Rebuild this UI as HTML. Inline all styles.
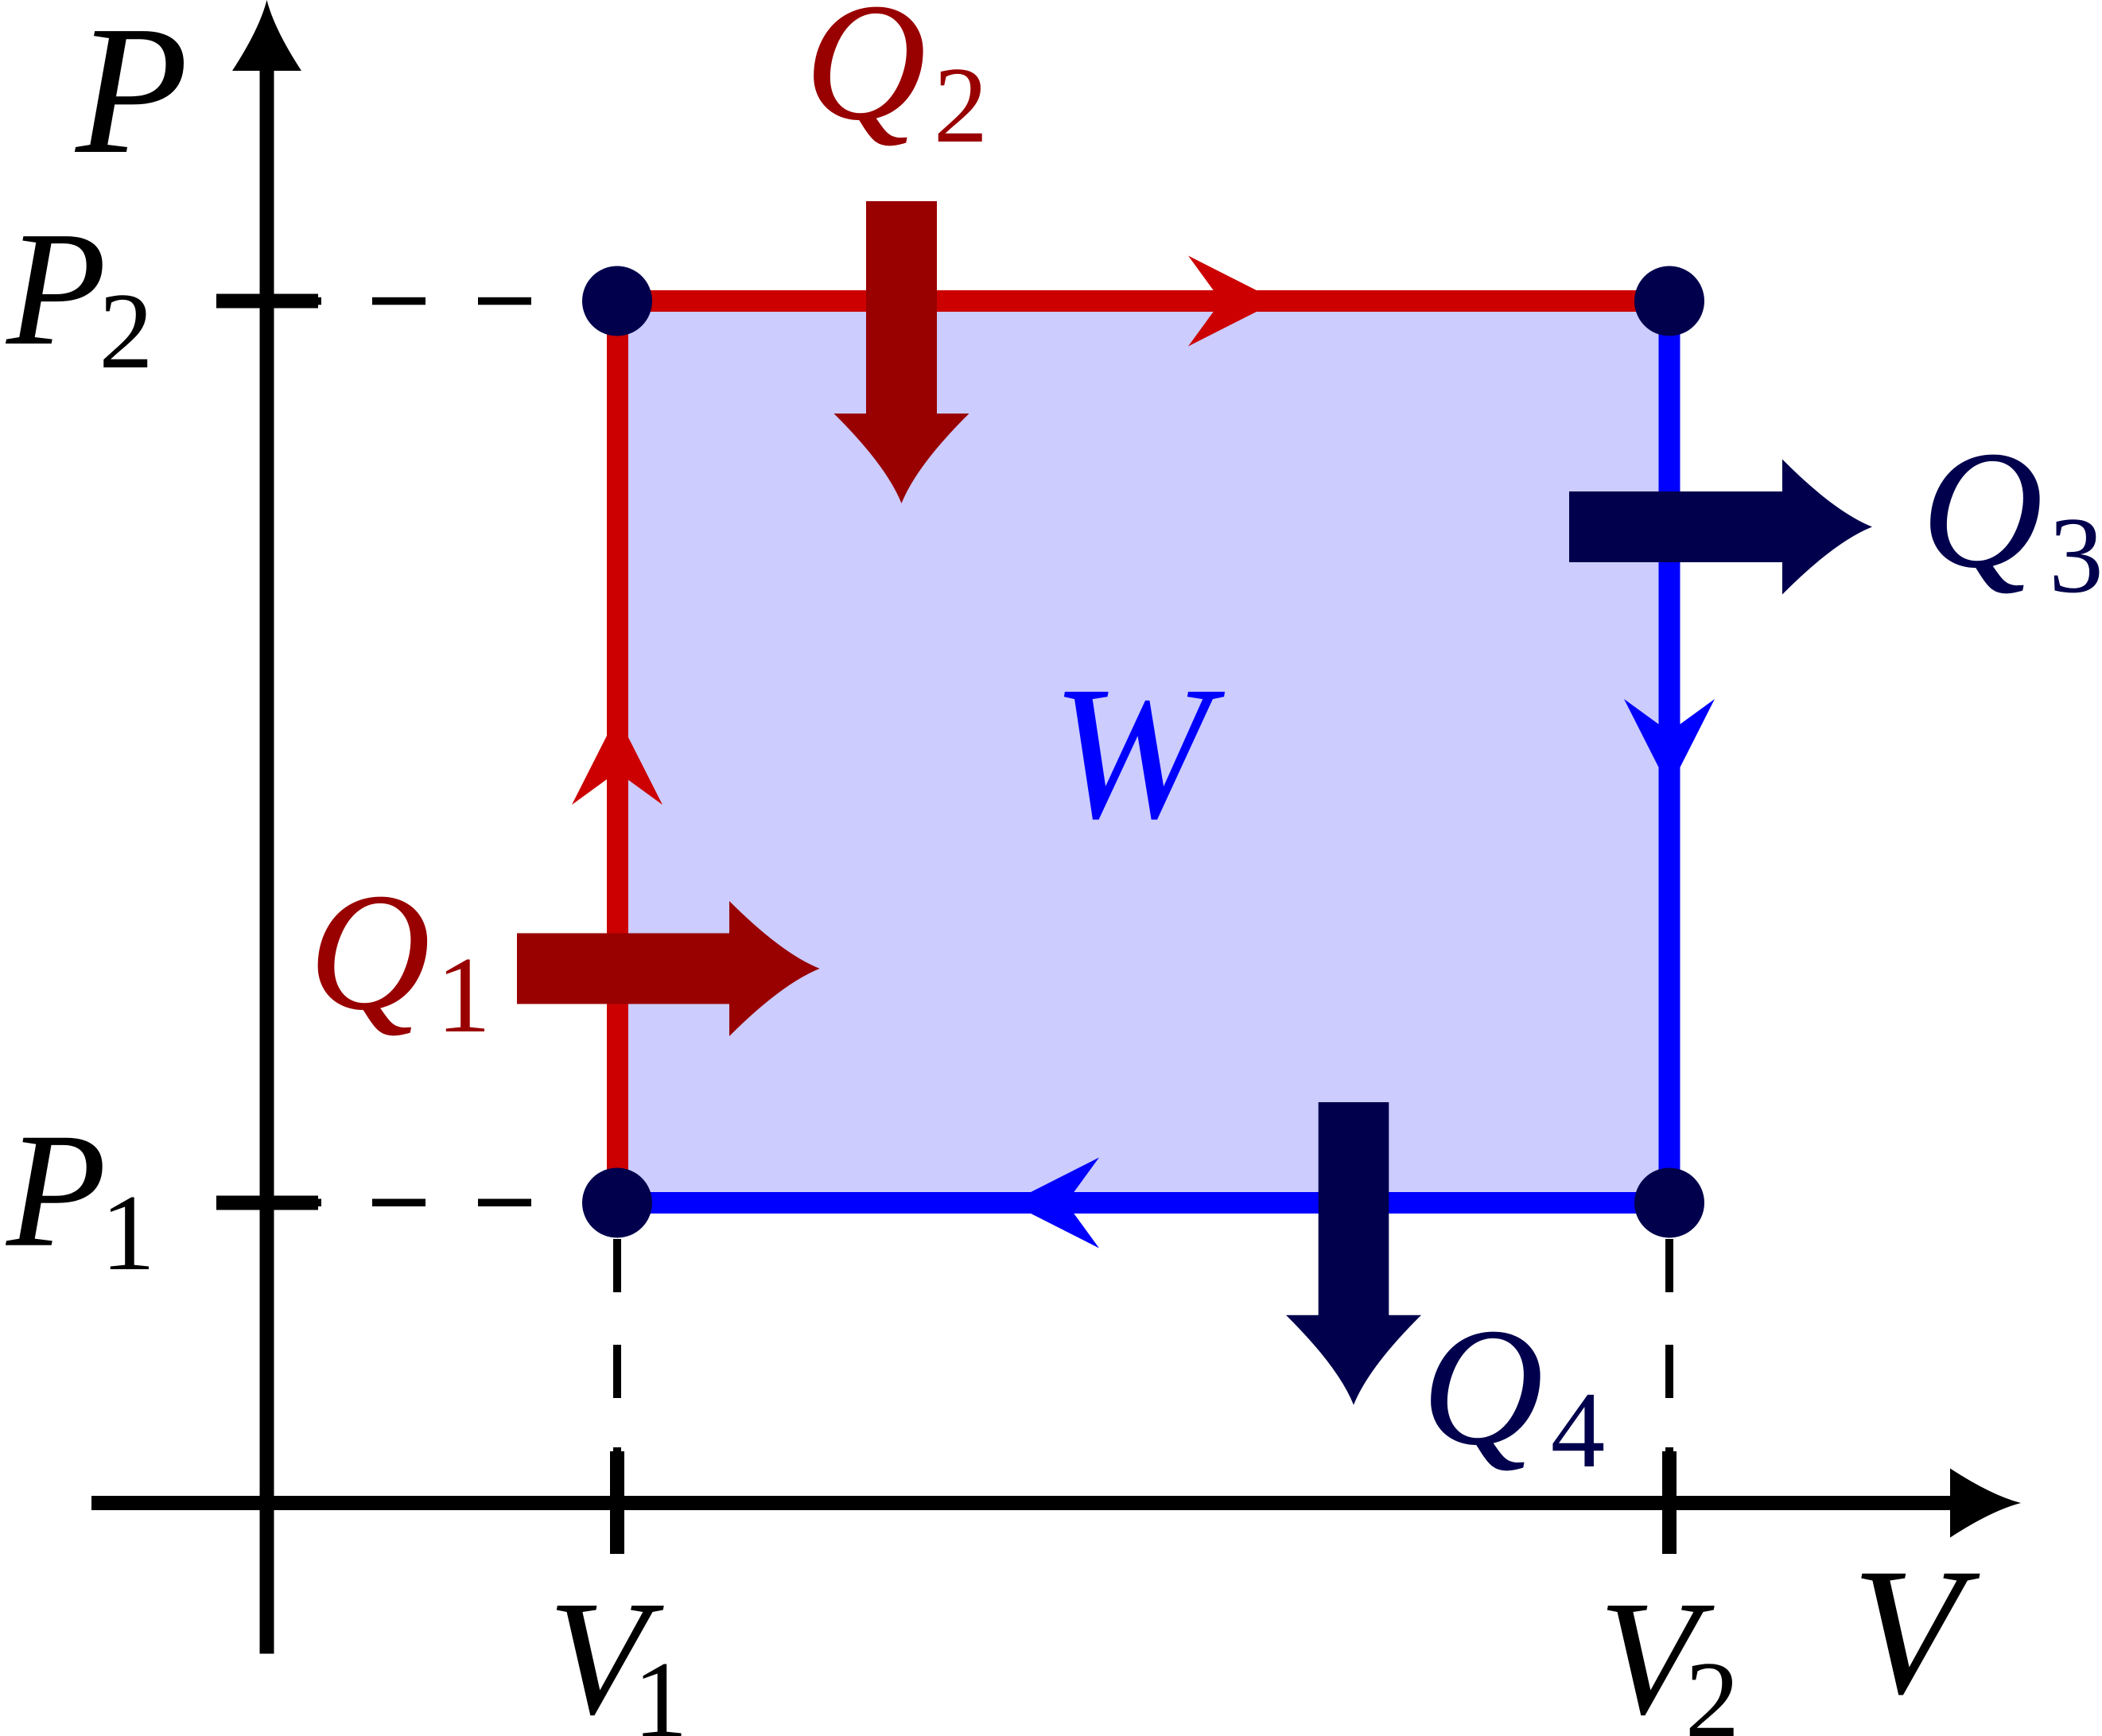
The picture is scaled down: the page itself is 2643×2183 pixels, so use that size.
<!DOCTYPE html>
<html>
<head>
<meta charset="utf-8">
<style>
  html, body { margin: 0; padding: 0; background: #ffffff; }
  svg { display: block; }
  .it { font-family: "Liberation Serif", "DejaVu Serif", serif; font-style: italic; }
  .rm { font-family: "Liberation Serif", "DejaVu Serif", serif; font-style: normal; }
</style>
</head>
<body>
<svg width="2643" height="2183" viewBox="0 0 2643 2183" xmlns="http://www.w3.org/2000/svg">
  <rect x="0" y="0" width="2643" height="2183" fill="#ffffff"/>

  <!-- cycle fill -->
  <rect x="776" y="378.5" width="1323" height="1134" fill="#ccccff"/>

  <!-- dashed guide lines -->
  <g fill="#000000">
    <rect x="468" y="373.8" width="67" height="9.5"/>
    <rect x="601" y="373.8" width="67" height="9.5"/>
    <rect x="400" y="373.8" width="4" height="9.5"/>
    <rect x="468" y="1507.5" width="67" height="9.5"/>
    <rect x="601" y="1507.5" width="67" height="9.5"/>
    <rect x="400" y="1507.5" width="4" height="9.5"/>
    <rect x="771" y="1558" width="10" height="67"/>
    <rect x="771" y="1691" width="10" height="67"/>
    <rect x="771" y="1820" width="10" height="6"/>
    <rect x="2094" y="1558" width="10" height="67"/>
    <rect x="2094" y="1691" width="10" height="67"/>
    <rect x="2094" y="1820" width="10" height="6"/>
  </g>

  <!-- cycle edges -->
  <rect x="776" y="365" width="1323" height="27" fill="#cc0000"/>
  <rect x="763" y="378.5" width="27" height="1134" fill="#cc0000"/>
  <rect x="2085.5" y="378.5" width="27" height="1134" fill="#0000ff"/>
  <rect x="776" y="1499" width="1323" height="27" fill="#0000ff"/>

  <!-- direction arrowheads on edges -->
  <path d="M1606.5,378.5 L1494,321.5 L1535.5,378.5 L1494,435.5 Z" fill="#cc0000"/>
  <path d="M776,899.5 L719,1012 L776,970.5 L833,1012 Z" fill="#cc0000"/>
  <path d="M2099,991.5 L2042,879 L2099,920.5 L2156,879 Z" fill="#0000ff"/>
  <path d="M1269.5,1512.5 L1382,1455.5 L1340.5,1512.5 L1382,1569.5 Z" fill="#0000ff"/>

  <!-- axes -->
  <g fill="#000000">
    <rect x="326.5" y="88" width="18" height="1991.5"/>
    <path d="M292,89 Q326,37 335.5,0 Q345,37 379,89 Z"/>
    <rect x="115" y="1881" width="2338" height="18"/>
    <path d="M2452,1846.5 Q2504,1880.4 2541,1890 Q2504,1899.6 2452,1933.5 Z"/>
    <!-- ticks -->
    <rect x="272" y="369.5" width="128" height="18"/>
    <rect x="272" y="1503.5" width="128" height="18"/>
    <rect x="767" y="1825" width="18" height="129"/>
    <rect x="2090" y="1825" width="18" height="129"/>
  </g>

  <!-- corner dots -->
  <g fill="#00004d">
    <circle cx="776" cy="378.5" r="44"/>
    <circle cx="2099" cy="378.5" r="44"/>
    <circle cx="776" cy="1512.5" r="44"/>
    <circle cx="2099" cy="1512.5" r="44"/>
  </g>

  <!-- heat arrows -->
  <path d="M650,1173.5 H917 V1133 Q983,1199 1030.6,1218 Q983,1237 917,1303 V1262.5 H650 Z" fill="#990000"/>
  <path d="M1089,253 H1178 V520 H1218.5 Q1152.5,585.5 1133.5,633 Q1114.5,585.5 1048.5,520 H1089 Z" fill="#990000"/>
  <path d="M1973,618 H2241 V577.5 Q2306.5,643.5 2354,662.5 Q2306.5,681.5 2241,747.5 V707 H1973 Z" fill="#00004d"/>
  <path d="M1657.7,1386 H1746.3 V1653.7 H1787 Q1721,1719.2 1702,1766.7 Q1683,1719.2 1617,1653.7 H1657.7 Z" fill="#00004d"/>

  <!-- labels -->
  <g fill="#000000">
    <text class="it" x="166" y="191" font-size="232" text-anchor="middle">P</text>
    <text class="it" x="2398" y="2128" font-size="228" text-anchor="middle">V</text>

    <text class="it" x="71" y="432" font-size="206" text-anchor="middle">P</text>
    <text class="rm" x="158.5" y="462" font-size="137" text-anchor="middle">2</text>

    <text class="it" x="71" y="1565.7" font-size="206" text-anchor="middle">P</text>
    <text class="rm" x="161" y="1596" font-size="137" text-anchor="middle">1</text>

    <text class="it" x="752" y="2154" font-size="206" text-anchor="middle">V</text>
    <text class="rm" x="830.5" y="2183" font-size="137" text-anchor="middle">1</text>

    <text class="it" x="2073" y="2154" font-size="206" text-anchor="middle">V</text>
    <text class="rm" x="2153" y="2183" font-size="137" text-anchor="middle">2</text>
  </g>

  <text class="it" x="1422" y="1027" font-size="240" text-anchor="middle" fill="#0000ff">W</text>

  <g fill="#990000">
    <text class="it" x="1088" y="149" font-size="212" text-anchor="middle">Q</text>
    <text class="rm" x="1208" y="178" font-size="137" text-anchor="middle">2</text>
    <text class="it" x="464.5" y="1268" font-size="212" text-anchor="middle">Q</text>
    <text class="rm" x="583" y="1297" font-size="137" text-anchor="middle">1</text>
  </g>
  <g fill="#00004d">
    <text class="it" x="2492" y="712" font-size="212" text-anchor="middle">Q</text>
    <text class="rm" x="2610.5" y="744" font-size="137" text-anchor="middle">3</text>
    <text class="it" x="1864" y="1815" font-size="212" text-anchor="middle">Q</text>
    <text class="rm" x="1984" y="1844" font-size="137" text-anchor="middle">4</text>
  </g>
</svg>
</body>
</html>
